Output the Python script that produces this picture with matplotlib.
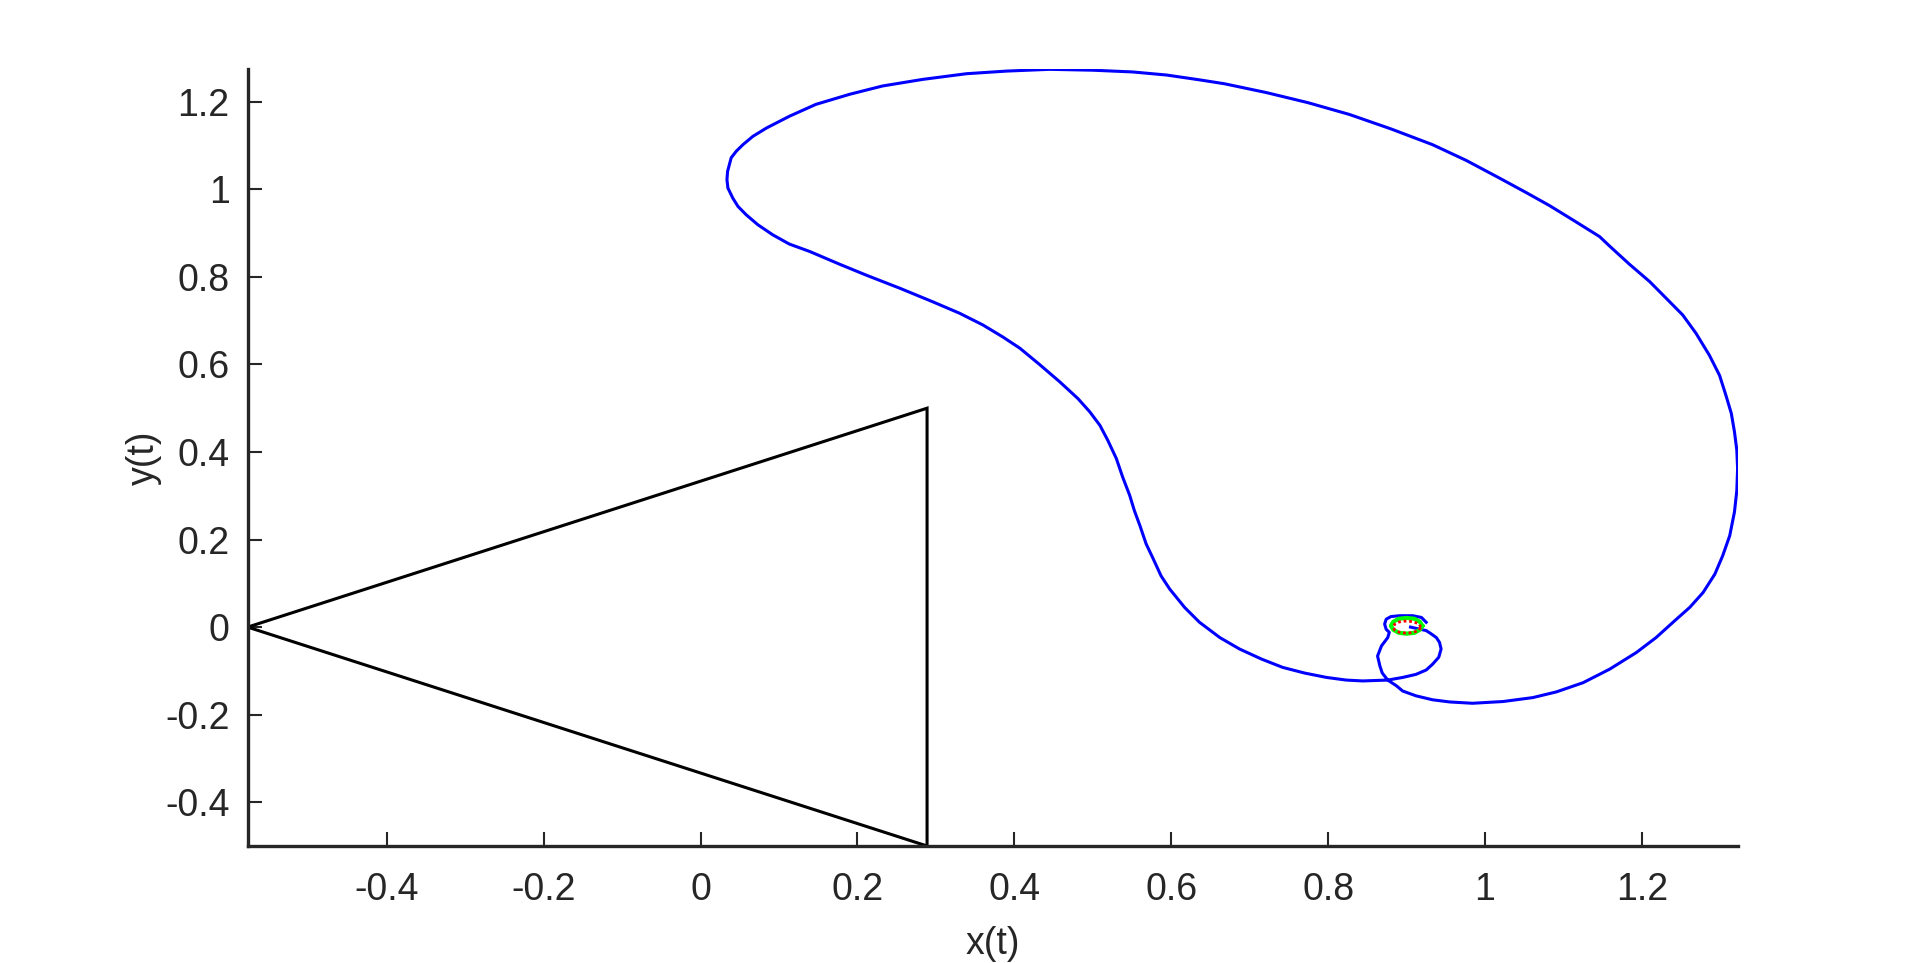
import matplotlib
matplotlib.use("Agg")
import matplotlib.pyplot as plt

plt.rcParams['font.family'] = ['Liberation Sans', 'DejaVu Sans']
plt.rcParams['axes.unicode_minus'] = False

# Triangle (magnet positions)
tri_x = [-0.5774, 0.2887, 0.2887, -0.5774]
tri_y = [0.0, 0.5, -0.5, 0.0]

# Blue trajectory
blue_x = [0.905, 0.925, 0.931, 0.938, 0.942, 0.944, 0.941, 0.933, 0.925, 0.912,
          0.895, 0.876, 0.844, 0.823, 0.798, 0.770, 0.742, 0.715, 0.687, 0.662,
          0.636, 0.617, 0.598, 0.587, 0.577, 0.568, 0.560, 0.553, 0.547, 0.538,
          0.530, 0.519, 0.509, 0.496, 0.481, 0.458, 0.432, 0.407, 0.385, 0.360,
          0.330, 0.296, 0.254, 0.211, 0.177, 0.139, 0.113, 0.092, 0.073, 0.058,
          0.0476, 0.041, 0.0348, 0.0336, 0.0344, 0.039, 0.0455, 0.054, 0.0667, 0.084,
          0.1134, 0.147, 0.190, 0.232, 0.283, 0.339, 0.390, 0.445, 0.500, 0.551,
          0.594, 0.636, 0.668, 0.721, 0.774, 0.827, 0.880, 0.933, 0.976, 1.018,
          1.053, 1.082, 1.112, 1.146, 1.159, 1.184, 1.210, 1.231, 1.252, 1.269,
          1.286, 1.299, 1.307, 1.314, 1.318, 1.321, 1.322, 1.321, 1.318, 1.312,
          1.303, 1.293, 1.278, 1.261, 1.244, 1.218, 1.193, 1.159, 1.125, 1.091,
          1.061, 1.023, 0.984, 0.955, 0.933, 0.912, 0.895, 0.887, 0.876, 0.869,
          0.866, 0.863, 0.868, 0.876, 0.878, 0.874, 0.872, 0.874, 0.880, 0.891,
          0.908, 0.919, 0.925]
blue_y = [0.000, -0.008, -0.015, -0.024, -0.035, -0.050, -0.069, -0.085, -0.098, -0.108,
          -0.115, -0.121, -0.123, -0.121, -0.115, -0.105, -0.092, -0.073, -0.050, -0.024,
          0.011, 0.045, 0.087, 0.117, 0.156, 0.190, 0.232, 0.266, 0.301, 0.343,
          0.385, 0.427, 0.461, 0.492, 0.522, 0.560, 0.600, 0.637, 0.663, 0.690,
          0.717, 0.743, 0.774, 0.804, 0.829, 0.858, 0.875, 0.896, 0.919, 0.942,
          0.961, 0.980, 1.003, 1.022, 1.041, 1.072, 1.087, 1.102, 1.121, 1.140,
          1.167, 1.194, 1.217, 1.236, 1.251, 1.264, 1.270, 1.274, 1.272, 1.268,
          1.261, 1.250, 1.241, 1.221, 1.198, 1.171, 1.138, 1.102, 1.066, 1.026,
          0.992, 0.963, 0.930, 0.892, 0.870, 0.829, 0.789, 0.751, 0.713, 0.671,
          0.621, 0.575, 0.530, 0.488, 0.446, 0.404, 0.362, 0.312, 0.263, 0.209,
          0.163, 0.121, 0.079, 0.045, 0.018, -0.024, -0.058, -0.096, -0.127, -0.148,
          -0.161, -0.170, -0.174, -0.171, -0.166, -0.157, -0.146, -0.134, -0.121, -0.105,
          -0.089, -0.066, -0.043, -0.024, -0.012, -0.005, 0.007, 0.018, 0.024, 0.026,
          0.026, 0.022, 0.011]

# Green and red rings around the final point
green_x = [0.920, 0.917, 0.910, 0.900, 0.890, 0.883, 0.880, 0.883, 0.890, 0.900, 0.910, 0.917, 0.920]
green_y = [0.003, 0.012, 0.019, 0.021, 0.019, 0.012, 0.003, -0.006, -0.013, -0.015, -0.013, -0.006, 0.003]
red_x = [0.918, 0.916, 0.909, 0.900, 0.891, 0.885, 0.883, 0.885, 0.891, 0.900, 0.909, 0.916, 0.918]
red_y = [0.000, 0.007, 0.012, 0.014, 0.012, 0.007, 0.000, -0.007, -0.012, -0.014, -0.012, -0.007, 0.000]

x_ticks = [-0.4, -0.2, 0, 0.2, 0.4, 0.6, 0.8, 1, 1.2]
x_tick_labels = ['-0.4', '-0.2', '0', '0.2', '0.4', '0.6', '0.8', '1', '1.2']
y_ticks = [-0.4, -0.2, 0, 0.2, 0.4, 0.6, 0.8, 1, 1.2]
y_tick_labels = ['-0.4', '-0.2', '0', '0.2', '0.4', '0.6', '0.8', '1', '1.2']

fig = plt.figure(figsize=(19.2, 9.63), dpi=100)
ax = fig.add_axes([0.129, 0.1215, 0.776, 0.8065])

ax.plot(tri_x, tri_y, color='black', lw=2.2, solid_joinstyle='miter')
ax.plot(blue_x, blue_y, color='#0000ff', lw=2.2)
ax.plot(green_x, green_y, color='#00ff00', lw=3.0)
ax.plot(red_x, red_y, color='#ff0000', lw=2.0, ls=(0, (1, 1)))

ax.set_xlim(min(tri_x), max(blue_x))
ax.set_ylim(min(tri_y), max(blue_y))

ax.set_xticks(x_ticks)
ax.set_xticklabels(x_tick_labels)
ax.set_yticks(y_ticks)
ax.set_yticklabels(y_tick_labels)

for side in ['top', 'right']:
    ax.spines[side].set_visible(False)
for side in ['left', 'bottom']:
    ax.spines[side].set_linewidth(2.4)
    ax.spines[side].set_color('#262626')

ax.tick_params(direction='in', length=10, width=1.5, colors='#262626',
               labelsize=27)
ax.tick_params(axis='x', pad=19)
ax.tick_params(axis='y', pad=13)
ax.set_xlabel('x(t)', fontsize=27, color='#262626', labelpad=13)
ax.set_ylabel('y(t)', fontsize=27, color='#262626', labelpad=2)

fig.savefig('out.png', dpi=100, facecolor='white')
